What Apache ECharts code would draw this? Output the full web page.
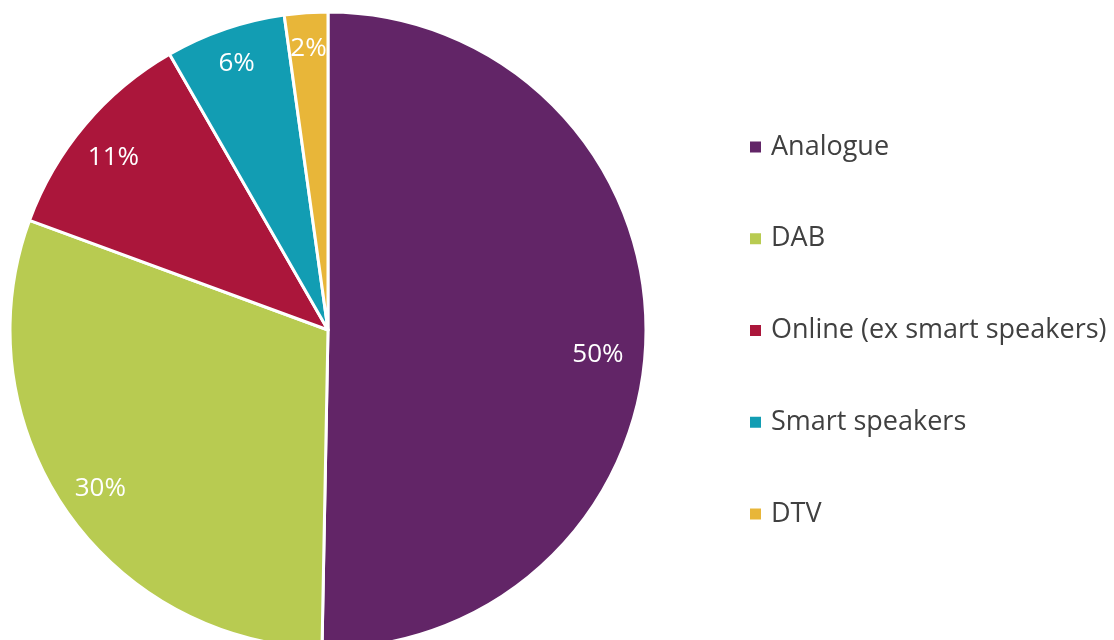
<!DOCTYPE html>
<html>
<head>
<meta charset="utf-8">
<script src="https://cdn.jsdelivr.net/npm/echarts@6/dist/echarts.min.js"></script>
<style>
  html, body { margin: 0; padding: 0; background: #fff; }
  #chart { width: 1114px; height: 640px; }
</style>
</head>
<body>
<div id="chart"></div>
<script>
const categories = ['Analogue', 'DAB', 'Online (ex smart speakers)', 'Smart speakers', 'DTV'];
const shares = [50.3, 30.3, 11.1, 6.1, 2.2];
const colors = ['#622567', '#b8cb51', '#ab163b', '#129db3', '#e8b639'];

// small nudges so labels sit where the original placed them
const labelNudge = {
  'Analogue': [-12, 22],
  'DAB': [5, -1],
  'Online (ex smart speakers)': [1, 9],
};

const pieData = categories.map((name, i) => ({
  name,
  value: shares[i],
  itemStyle: { color: colors[i] },
}));

const chart = echarts.init(document.getElementById('chart'));

const option = {
  backgroundColor: '#ffffff',
  animation: false,
  legend: {
    orient: 'vertical',
    left: 748,
    top: 133.5,
    padding: 0,
    itemWidth: 13,
    itemHeight: 13,
    itemGap: 64.75,
    icon: 'rect',
    data: categories,
    textStyle: {
      color: '#404040',
      fontFamily: 'Open Sans',
      fontSize: 27,
      lineHeight: 27,
      padding: [0, 0, 0, 4],
    },
  },
  series: [
    {
      type: 'pie',
      center: [328, 330],
      radius: [0, 318],
      startAngle: 90,
      clockwise: true,
      label: { show: false },
      labelLine: { show: false },
      itemStyle: { borderColor: '#ffffff', borderWidth: 3 },
      emphasis: { disabled: true },
      data: pieData,
    },
    {
      // transparent ring only used to place the percent labels near the rim
      type: 'pie',
      center: [328, 330],
      radius: [240, 318],
      startAngle: 90,
      clockwise: true,
      silent: true,
      itemStyle: { color: 'rgba(0,0,0,0)' },
      label: {
        show: true,
        position: 'inside',
        color: '#ffffff',
        fontFamily: 'Open Sans',
        fontSize: 26,
        formatter: (p) => Math.round(p.value) + '%',
      },
      labelLine: { show: false },
      emphasis: { disabled: true },
      data: pieData.map((d) => ({
        name: d.name,
        value: d.value,
        label: labelNudge[d.name] ? { offset: labelNudge[d.name] } : undefined,
      })),
    },
  ],
};

chart.setOption(option);
</script>
</body>
</html>
